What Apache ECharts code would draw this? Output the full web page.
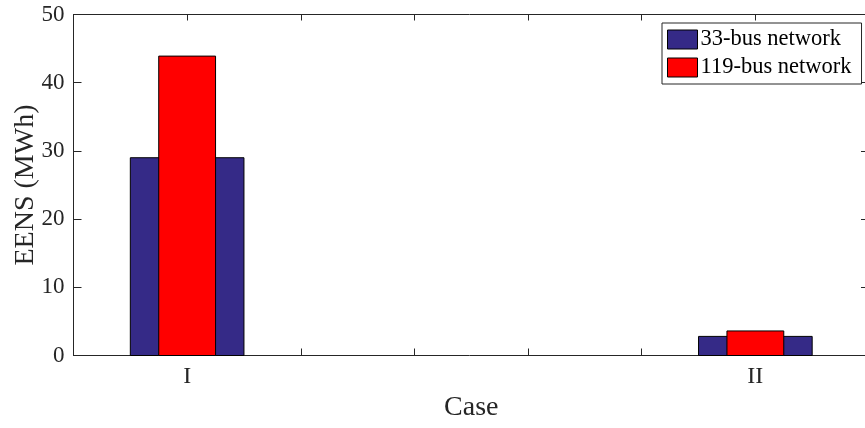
<!DOCTYPE html>
<html>
<head>
<meta charset="utf-8">
<script src="https://cdn.jsdelivr.net/npm/echarts@6/dist/echarts.min.js"></script>
<style>
html,body{margin:0;padding:0;background:#fff;}
#chart{width:865px;height:428px;}
</style>
</head>
<body>
<div id="chart"></div>
<script>
// ---- data ----
const categories = ['I', 'II'];
const positions = [1, 2];
const seriesNames = ['33-bus network', '119-bus network'];
const bus33 = [29.0, 2.8];
const bus119 = [43.9, 3.6];
const yTicks = [0, 10, 20, 30, 40, 50];

// ---- styling ----
const FONT = "'Liberation Serif', 'Times New Roman', serif";
const AX = '#262626';
const colors = ['#352A87', '#FF0000'];
const barWidths = [0.2, 0.1]; // in axis units

function makeRender(idx) {
  return function (params, api) {
    const x = api.value(0), y = api.value(1);
    const w = barWidths[idx];
    const p0 = api.coord([x - w / 2, y]);
    const p1 = api.coord([x + w / 2, 0]);
    return {
      type: 'rect',
      shape: { x: p0[0], y: p0[1], width: p1[0] - p0[0], height: p1[1] - p0[1] },
      style: { fill: colors[idx], stroke: '#000', lineWidth: 1 }
    };
  };
}

function labelFor(v) {
  for (let i = 0; i < positions.length; i++) {
    if (Math.abs(v - positions[i]) < 1e-6) return categories[i];
  }
  return '';
}

const chart = echarts.init(document.getElementById('chart'), null, { renderer: 'canvas' });
chart.setOption({
  animation: false,
  backgroundColor: '#fff',
  grid: { left: 73.5, top: 14.5, width: 795.5, height: 341, containLabel: false, outerBoundsMode: 'none' },
  legend: {
    orient: 'vertical',
    left: 662, top: 23,
    padding: [5, 10, 5, 5],
    itemGap: 5,
    itemWidth: 30, itemHeight: 19,
    backgroundColor: '#fff',
    borderColor: AX, borderWidth: 1, borderRadius: 0,
    icon: 'rect',
    textStyle: { fontFamily: FONT, fontSize: 22.5, color: '#000', padding: [0, 0, 0, -2] },
    data: seriesNames.map((n, i) => ({ name: n, itemStyle: { color: colors[i], borderColor: '#000', borderWidth: 1 } }))
  },
  xAxis: [{
    type: 'value', min: 0.8, max: 2.2, interval: 0.2,
    position: 'bottom',
    name: 'Case', nameLocation: 'middle', nameGap: 38, nameMoveOverlap: false,
    nameTextStyle: { fontFamily: FONT, fontSize: 28, color: AX },
    axisLine: { show: true, onZero: false, lineStyle: { color: AX, width: 1 } },
    axisTick: { show: true, inside: true, length: 7, lineStyle: { color: AX } },
    axisLabel: { fontFamily: FONT, fontSize: 24, color: AX, margin: 9, formatter: labelFor, showMinLabel: false, showMaxLabel: false },
    splitLine: { show: false }
  }, {
    type: 'value', min: 0.8, max: 2.2, interval: 0.2,
    position: 'top',
    axisLine: { show: true, onZero: false, lineStyle: { color: AX, width: 1 } },
    axisTick: { show: true, inside: true, length: 6, lineStyle: { color: AX } },
    axisLabel: { show: false },
    splitLine: { show: false }
  }],
  yAxis: [{
    type: 'value', min: yTicks[0], max: yTicks[yTicks.length - 1], interval: yTicks[1] - yTicks[0],
    position: 'left',
    name: 'EENS (MWh)', nameLocation: 'middle', nameGap: 34, nameMoveOverlap: false,
    nameTextStyle: { fontFamily: FONT, fontSize: 28, color: AX },
    axisLine: { show: true, onZero: false, lineStyle: { color: AX, width: 1 } },
    axisTick: { show: true, inside: true, length: 8, lineStyle: { color: AX } },
    axisLabel: { fontFamily: FONT, fontSize: 23, color: AX, margin: 9 },
    splitLine: { show: false }
  }, {
    type: 'value', min: yTicks[0], max: yTicks[yTicks.length - 1], interval: yTicks[1] - yTicks[0],
    position: 'right',
    axisLine: { show: false },
    axisTick: { show: true, inside: true, length: 8, lineStyle: { color: AX } },
    axisLabel: { show: false },
    splitLine: { show: false }
  }],
  series: [
    {
      name: seriesNames[0], type: 'custom', xAxisIndex: 0, yAxisIndex: 0,
      itemStyle: { color: colors[0], borderColor: '#000', borderWidth: 1 },
      renderItem: makeRender(0),
      encode: { x: 0, y: 1 },
      data: positions.map((p, i) => [p, bus33[i]])
    },
    {
      name: seriesNames[1], type: 'custom', xAxisIndex: 0, yAxisIndex: 0,
      itemStyle: { color: colors[1], borderColor: '#000', borderWidth: 1 },
      renderItem: makeRender(1),
      encode: { x: 0, y: 1 },
      data: positions.map((p, i) => [p, bus119[i]])
    }
  ]
});
</script>
</body>
</html>
